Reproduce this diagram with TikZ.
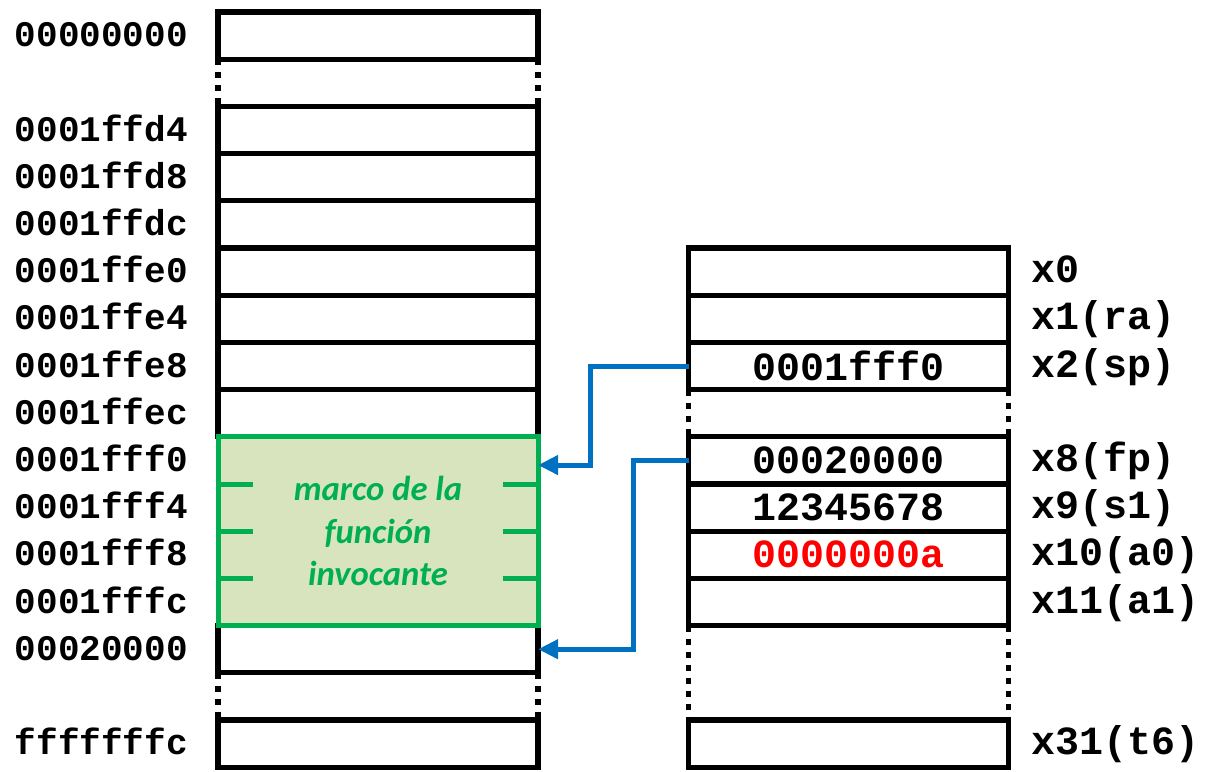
\documentclass[tikz,border=0pt]{standalone}
\usepackage{fontspec}
\setmonofont{Liberation Mono}
\newfontfamily\calibri{Carlito}
\usetikzlibrary{arrows.meta}
\definecolor{frmgreen}{RGB}{0,176,80}
\definecolor{frmfill}{RGB}{215,228,189}
\definecolor{ptrblue}{RGB}{0,112,192}
\definecolor{valred}{RGB}{255,0,0}

\begin{document}
\begin{tikzpicture}[x=0.75pt, y=-0.75pt,
  cell/.style={draw, line width=4pt, minimum width=240pt, minimum height=35.4pt,
    inner sep=0pt, outer sep=0pt, font=\ttfamily\bfseries\fontsize{30}{30}\selectfont},
  addr/.style={font=\ttfamily\bfseries\fontsize{27}{27}\selectfont, anchor=base east, inner sep=0pt},
  reg/.style={font=\ttfamily\bfseries\fontsize{30}{30}\selectfont, anchor=base west, inner sep=0pt},
  gap/.style={line width=4pt, dash pattern=on 4.5pt off 5.25pt},
  tick/.style={frmgreen, line width=3.75pt},
  link/.style={ptrblue, line width=3.75pt, -{Triangle[length=15pt, width=14pt]}}]
  \useasboundingbox (0,0) rectangle (1213,771);
  \def\h{47.2}
  % memory
  \foreach \k/\adr in {0/00000000, 2/0001ffd4, 3/0001ffd8, 4/0001ffdc, 5/0001ffe0,
      6/0001ffe4, 7/0001ffe8, 8/0001ffec, 13/00020000, 15/fffffffc} {
    \node[cell] (m\k) at (378,{35.6+\h*\k}) {};
    \node[addr] (a\k) at (188,{46.6+\h*\k}) {\adr};
  }
  \foreach \k/\adr in {9/0001fff0, 10/0001fff4, 11/0001fff8, 12/0001fffc} {
    \node[cell, draw=none] (m\k) at (378,{35.6+\h*\k}) {};
    \node[addr] (a\k) at (188,{46.6+\h*\k}) {\adr};
  }
  \draw[gap] (m0.south west) -- (m2.north west);
  \draw[gap] (m0.south east) -- (m2.north east);
  \draw[gap] (m13.south west) -- (m15.north west);
  \draw[gap] (m13.south east) -- (m15.north east);
  % caller frame
  \node[draw=frmgreen, fill=frmfill, line width=3.75pt, minimum width=240pt,
    minimum height=141.6pt, outer sep=0pt] (frm) at (378,{12+\h*11}) {};
  \foreach \k in {10,11,12} {
    \draw[tick] (218,{12+\h*\k}) -- ++(35,0);
    \draw[tick] (538,{12+\h*\k}) -- ++(-35,0);
  }
  \node[font=\calibri\bfseries\itshape\fontsize{26}{32}\selectfont, text=frmgreen,
    align=center] (frmtxt) at (frm.center) {marco de la\\función\\invocante};
  % registers
  \node[cell] (r5) at (848.5,{35.6+\h*5}) {};
  \node[cell] (r6) at (848.5,{35.6+\h*6}) {};
  \node[cell] (r7) at (848.5,{35.6+\h*7}) {0001fff0};
  \node[cell] (r9) at (848.5,{35.6+\h*9}) {00020000};
  \node[cell] (r10) at (848.5,{35.6+\h*10}) {12345678};
  \node[cell, text=valred] (r11) at (848.5,{35.6+\h*11}) {0000000a};
  \node[cell] (r12) at (848.5,{35.6+\h*12}) {};
  \node[cell] (r15) at (848.5,{35.6+\h*15}) {};
  \draw[gap] (r7.south west) -- (r9.north west);
  \draw[gap] (r7.south east) -- (r9.north east);
  \draw[gap] (r12.south west) -- (r15.north west);
  \draw[gap] (r12.south east) -- (r15.north east);
  \node[reg] (n5) at (1031,{46.6+\h*5}) {x0};
  \node[reg] (n6) at (1031,{46.6+\h*6}) {x1(ra)};
  \node[reg] (n7) at (1031,{46.6+\h*7}) {x2(sp)};
  \node[reg] (n9) at (1031,{46.6+\h*9}) {x8(fp)};
  \node[reg] (n10) at (1031,{46.6+\h*10}) {x9(s1)};
  \node[reg] (n11) at (1031,{46.6+\h*11}) {x10(a0)};
  \node[reg] (n12) at (1031,{46.6+\h*12}) {x11(a1)};
  \node[reg] (n15) at (1031,{46.6+\h*15}) {x31(t6)};
  % pointers
  \draw[link] (r7.west) -- ++(-98,0) |- ([yshift=-3.5pt]m9.east);
  \draw[link] (r9.west) -- ++(-55,0) |- (m13.east);
\end{tikzpicture}
\end{document}
